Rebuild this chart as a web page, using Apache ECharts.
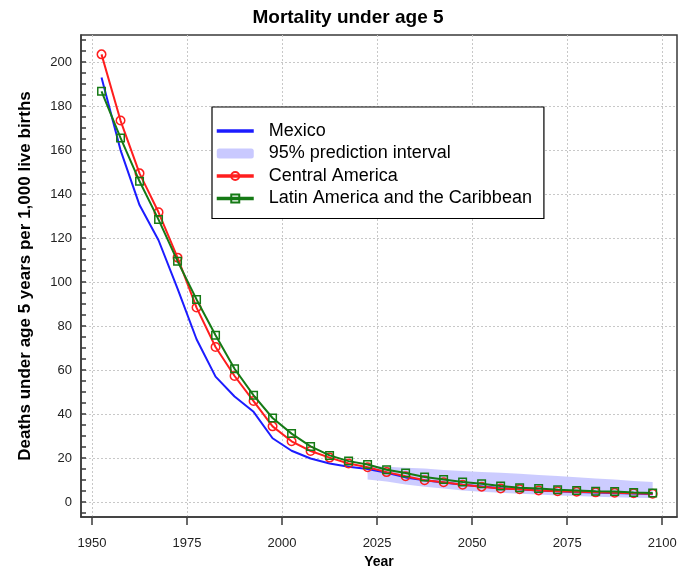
<!DOCTYPE html>
<html>
<head>
<meta charset="utf-8">
<script src="https://cdn.jsdelivr.net/npm/echarts@6/dist/echarts.min.js"></script>
<style>
  html, body { margin: 0; padding: 0; background: #fff; }
  #chart { width: 696px; height: 569px; }
</style>
</head>
<body>
<div id="chart"></div>
<script>
// ---- data ----
const years = [1952.5, 1957.5, 1962.5, 1967.5, 1972.5, 1977.5, 1982.5, 1987.5, 1992.5, 1997.5,
               2002.5, 2007.5, 2012.5, 2017.5, 2022.5, 2027.5, 2032.5, 2037.5, 2042.5, 2047.5,
               2052.5, 2057.5, 2062.5, 2067.5, 2072.5, 2077.5, 2082.5, 2087.5, 2092.5, 2097.5];
const mexico = [193, 160, 135, 119, 97, 74, 57, 48, 41, 29,
                23.3, 19.8, 17.5, 16.0, 15.0, 13.3, 11.2, 9.9, 8.9, 7.9,
                7.1, 6.3, 5.8, 5.3, 4.9, 4.6, 4.3, 4.1, 3.9, 3.6];
const centralAmerica = [203.5, 173.4, 149.4, 131.7, 111.1, 88.4, 70.5, 57.3, 45.9, 34.4,
                        27.6, 23.2, 20.2, 17.5, 15.8, 13.6, 11.7, 9.9, 9.0, 7.9,
                        7.0, 6.2, 5.8, 5.3, 4.9, 4.7, 4.4, 4.2, 4.0, 3.8];
const latinAmerica = [186.7, 165.5, 145.8, 128.4, 109.5, 92.1, 75.8, 60.6, 48.5, 38.2,
                      31.1, 25.3, 21.2, 18.6, 17.1, 14.7, 13.2, 11.4, 10.2, 9.1,
                      8.3, 7.3, 6.5, 6.1, 5.6, 5.3, 4.9, 4.8, 4.3, 4.1];
const bandYears = [2022.5, 2027.5, 2032.5, 2037.5, 2042.5, 2047.5, 2052.5, 2057.5,
                   2062.5, 2067.5, 2072.5, 2077.5, 2082.5, 2087.5, 2092.5, 2097.5];
const bandHigh = [16.7, 16.0, 15.6, 15.2, 14.6, 14.1, 13.7, 13.3, 12.9, 12.3, 11.8, 11.3, 10.7, 10.2, 9.6, 9.1];
const bandLow  = [10.3, 9.3, 8.0, 7.0, 6.1, 5.3, 4.7, 4.2, 3.8, 3.4, 3.0, 2.7, 2.4, 2.2, 2.0, 1.8];

const xTickLabels = [1950, 1975, 2000, 2025, 2050, 2075, 2100];
const yTickLabels = [0, 20, 40, 60, 80, 100, 120, 140, 160, 180, 200];
const yMinorTicks = [];
for (let v = -5; v <= 210; v += 5) yMinorTicks.push(v);

const seriesNames = ['Mexico', '95% prediction interval', 'Central America', 'Latin America and the Caribbean'];

// ---- styles ----
const BLUE = '#1c1cff', RED = '#ff1e1e', GREEN = '#157a15', BAND = '#c9c9ff';
const AXIS = '#3a3a3a';
const FONT = '"Liberation Sans", Arial, Helvetica, sans-serif';

const chart = echarts.init(document.getElementById('chart'), null, { renderer: 'canvas' });

const option = {
  animation: false,
  backgroundColor: '#fff',
  textStyle: { fontFamily: FONT },
  title: {
    text: 'Mortality under age 5',
    left: 'center',
    top: 8,
    padding: 0,
    textStyle: { fontFamily: FONT, fontSize: 19, fontWeight: 'bold', color: '#000' }
  },
  grid: {
    left: 81, top: 35, right: 19, bottom: 52,
    containLabel: false,
    outerBoundsMode: 'none',
    show: true, borderColor: AXIS, borderWidth: 1.5, backgroundColor: 'transparent'
  },
  legend: {
    orient: 'vertical',
    left: 212, top: 107,
    padding: [15, 12, 11, 3],
    itemGap: 4.5,
    itemWidth: 37, itemHeight: 10,
    borderColor: '#000', borderWidth: 1.2,
    backgroundColor: '#fff',
    textStyle: { fontFamily: FONT, fontSize: 18, lineHeight: 18, color: '#000', padding: [0, 0, 0, 10] },
    lineStyle: { width: 3.5 },
    data: [
      { name: seriesNames[0], itemStyle: { opacity: 0 } },
      { name: seriesNames[1], icon: 'roundRect', itemStyle: { color: BAND } },
      { name: seriesNames[2] },
      { name: seriesNames[3] }
    ]
  },
  xAxis: {
    type: 'value',
    min: 1947.1, max: 2103.9,
    name: 'Year', nameLocation: 'middle', nameGap: 37,
    nameTextStyle: { fontFamily: FONT, fontSize: 14, fontWeight: 'bold', color: '#000' },
    axisLine: { show: true, onZero: false, lineStyle: { color: AXIS, width: 1.5 } },
    axisTick: { show: true, inside: false, length: 8, customValues: xTickLabels, lineStyle: { color: AXIS, width: 1.5 } },
    axisLabel: { customValues: xTickLabels, margin: 20, fontSize: 13, color: '#222', fontFamily: FONT,
                 formatter: function (v) { return String(v); } },
    splitLine: { show: true, lineStyle: { color: '#c8c8c8', width: 1, type: [2, 2] } }
  },
  yAxis: [
    {
      type: 'value',
      min: -6.8, max: 212.3,
      position: 'left',
      name: 'Deaths under age 5 years per 1,000 live births',
      nameLocation: 'middle', nameGap: 47,
      nameTextStyle: { fontFamily: FONT, fontSize: 17, fontWeight: 'bold', color: '#000' },
      axisLine: { show: true, onZero: false, lineStyle: { color: AXIS, width: 1.5 } },
      axisTick: { show: false, customValues: yTickLabels },
      axisLabel: { customValues: yTickLabels, margin: 9, fontSize: 13, color: '#222', fontFamily: FONT },
      splitLine: { show: true, lineStyle: { color: '#c8c8c8', width: 1, type: [2, 2] } }
    },
    {
      type: 'value',
      min: -6.8, max: 212.3,
      position: 'left', offset: 0,
      axisLine: { show: false, onZero: false },
      axisTick: { show: true, inside: true, length: 5, customValues: yMinorTicks, lineStyle: { color: AXIS, width: 1.5 } },
      axisLabel: { show: false },
      splitLine: { show: false }
    }
  ],
  series: [
    {
      name: seriesNames[1],
      type: 'custom',
      z: 1,
      color: BAND,
      itemStyle: { color: BAND },
      encode: { x: 0, y: [1, 2] },
      data: bandYears.map((y, i) => [y, bandLow[i], bandHigh[i]]),
      renderItem: function (params, api) {
        if (params.dataIndex !== 0) return null;
        const top = bandYears.map((y, i) => api.coord([y, bandHigh[i]]));
        const bot = bandYears.map((y, i) => api.coord([y, bandLow[i]])).reverse();
        return {
          type: 'polygon',
          shape: { points: top.concat(bot) },
          style: { fill: BAND, opacity: 0.95 }
        };
      }
    },
    {
      name: seriesNames[0],
      type: 'line',
      z: 2,
      color: BLUE,
      data: years.map((y, i) => [y, mexico[i]]),
      symbol: 'none',
      lineStyle: { color: BLUE, width: 2 },
      itemStyle: { color: BLUE }
    },
    {
      name: seriesNames[2],
      type: 'line',
      z: 3,
      color: RED,
      data: years.map((y, i) => [y, centralAmerica[i]]),
      symbol: 'circle', symbolSize: 8.5, showAllSymbol: true,
      lineStyle: { color: RED, width: 2 },
      itemStyle: { color: 'rgba(255,255,255,0)', borderColor: RED, borderWidth: 1.5 }
    },
    {
      name: seriesNames[3],
      type: 'line',
      z: 4,
      color: GREEN,
      data: years.map((y, i) => [y, latinAmerica[i]]),
      symbol: 'rect', symbolSize: 7.5, showAllSymbol: true,
      lineStyle: { color: GREEN, width: 2 },
      itemStyle: { color: 'rgba(255,255,255,0)', borderColor: GREEN, borderWidth: 1.5 }
    }
  ]
};

chart.setOption(option);
</script>
</body>
</html>
